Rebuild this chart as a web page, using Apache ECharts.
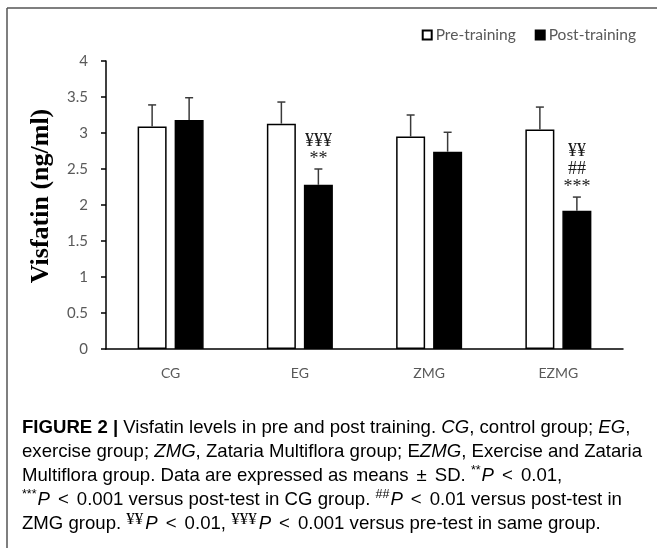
<!DOCTYPE html>
<html>
<head>
<meta charset="utf-8">
<script src="https://cdn.jsdelivr.net/npm/echarts@6/dist/echarts.min.js"></script>
<style>
  html, body { margin: 0; padding: 0; background: #fff; }
  #chart { width: 657px; height: 548px; }
</style>
</head>
<body>
<div id="chart"></div>
<script>
// Visfatin (ng/ml), means ± SD, before and after the training period
const groups = ['CG', 'EG', 'ZMG', 'EZMG'];
const preMeans = [3.09, 3.13, 2.95, 3.05];
const preSD = [0.30, 0.30, 0.30, 0.31];
const postMeans = [3.18, 2.28, 2.74, 1.92];
const postSD = [0.31, 0.22, 0.27, 0.19];
const postMarks = ['', '¥¥¥\n**', '', '¥¥\n##\n***'];
const yTicks = { min: 0, max: 4, step: 0.5 };
const seriesNames = ['Pre-training', 'Post-training'];

const BAR_W = 29;
const BAR_GAP = 8;
const half = (BAR_W + BAR_GAP) / 2;

const chart = echarts.init(document.getElementById('chart'), null, { renderer: 'canvas' });

function errorSeries(means, sds, shift) {
  return {
    type: 'custom',
    silent: true,
    z: 5,
    data: groups.map((g, i) => [i, means[i], means[i] + sds[i]]),
    renderItem: function (params, api) {
      const i = api.value(0);
      const top = api.coord([i, api.value(2)]);
      const base = api.coord([i, api.value(1)]);
      const x = top[0] + shift;
      const cap = 4;
      return {
        type: 'group',
        children: [
          { type: 'line', shape: { x1: x, y1: base[1], x2: x, y2: top[1] },
            style: { stroke: '#3a3a3a', lineWidth: 1.5 } },
          { type: 'line', shape: { x1: x - cap, y1: top[1], x2: x + cap, y2: top[1] },
            style: { stroke: '#3a3a3a', lineWidth: 1.5 } }
        ]
      };
    }
  };
}

// significance symbols stacked above the post-training error bars
const markSeries = {
  type: 'custom',
  silent: true,
  z: 6,
  data: groups.map((g, i) => [i, postMeans[i] + postSD[i], postMarks[i]]),
  renderItem: function (params, api) {
    const i = api.value(0);
    const txt = postMarks[i];
    if (!txt) return null;
    const p = api.coord([i, api.value(1)]);
    return {
      type: 'text',
      x: p[0] + half,
      y: p[1] - 1,
      style: {
        text: txt,
        fill: '#1a1a1a',
        font: '18px "Liberation Serif", "Times New Roman", serif',
        lineHeight: 18,
        align: 'center',
        verticalAlign: 'bottom'
      }
    };
  }
};

const captionFont = '"Liberation Sans", Arial, Helvetica, sans-serif';
const CAP = 18.6;
const capRich = {
  t: { fontFamily: captionFont, fontSize: CAP, color: '#333333', lineHeight: 24 },
  b: { fontFamily: captionFont, fontSize: CAP, fontWeight: 'bold', color: '#1a1a1a', lineHeight: 24 },
  i: { fontFamily: captionFont, fontSize: CAP, fontStyle: 'italic', color: '#333333', lineHeight: 24 },
  op: { fontFamily: captionFont, fontSize: CAP, color: '#333333', lineHeight: 24, padding: [0, 8, 0, 8] },
  s: { fontFamily: captionFont, fontSize: 12.5, color: '#333333', lineHeight: 24, verticalAlign: 'top', padding: [1, 1, 0, 0] },
  ys: { fontFamily: '"Liberation Serif", serif', fontSize: 17, color: '#333333', lineHeight: 24, verticalAlign: 'top', padding: [0, 2, 0, 0] }
};
const captionText = [
  '{b|FIGURE 2 |}{t| Visfatin levels in pre and post training. }{i|CG}{t|, control group; }{i|EG}{t|,}',
  '{t|exercise group; }{i|ZMG}{t|, Zataria Multiflora group; E}{i|ZMG}{t|, Exercise and Zataria}',
  '{t|Multiflora group. Data are expressed as means}{op|±}{t|SD. }{s|**}{i|P}{op|<}{t|0.01,}',
  '{s|***}{i|P}{op|<}{t|0.001 versus post-test in CG group. }{s|##}{i|P}{op|<}{t|0.01 versus post-test in}',
  '{t|ZMG group. }{ys|¥¥}{i|P}{op|<}{t|0.01, }{ys|¥¥¥}{i|P}{op|<}{t|0.001 versus pre-test in same group.}'
].join('\n');

const option = {
  backgroundColor: '#ffffff',
  animation: false,
  textStyle: { fontFamily: 'Lato, "Open Sans", sans-serif' },
  legend: {
    data: seriesNames,
    right: 16,
    top: 22,
    itemWidth: 9,
    itemHeight: 9,
    itemGap: 19,
    icon: 'rect',
    textStyle: { color: '#595959', fontSize: 15.5, fontFamily: 'Lato, sans-serif', padding: [0, 0, 0, -1] }
  },
  grid: { left: 106, right: 34, top: 61, bottom: 199, containLabel: false },
  xAxis: {
    type: 'category',
    data: groups,
    axisLine: { lineStyle: { color: '#000', width: 1.5 } },
    axisTick: { show: false },
    axisLabel: { color: '#595959', fontSize: 14, margin: 17, fontFamily: 'Lato, sans-serif' }
  },
  yAxis: {
    type: 'value',
    min: yTicks.min,
    max: yTicks.max,
    interval: yTicks.step,
    name: 'Visfatin (ng/ml)',
    nameLocation: 'middle',
    nameGap: 52,
    nameRotate: 90,
    nameTextStyle: {
      fontFamily: '"Liberation Serif", "Times New Roman", serif', fontWeight: 'bold', fontSize: 26, color: '#000',
      padding: [0, 0, 0, 18]
    },
    axisLine: { show: true, lineStyle: { color: '#000', width: 1.5 } },
    axisTick: { show: true, length: 5, lineStyle: { color: '#000', width: 1.5 } },
    axisLabel: { color: '#595959', fontSize: 15, margin: 18, fontFamily: 'Lato, sans-serif' },
    splitLine: { show: false }
  },
  series: [
    {
      name: seriesNames[0],
      type: 'bar',
      data: preMeans,
      barWidth: BAR_W,
      barGap: (BAR_GAP / BAR_W * 100).toFixed(1) + '%',
      itemStyle: { color: '#ffffff', borderColor: '#000', borderWidth: 1.5 }
    },
    {
      name: seriesNames[1],
      type: 'bar',
      data: postMeans,
      barWidth: BAR_W,
      itemStyle: { color: '#000000', borderColor: '#000', borderWidth: 1.5 }
    },
    errorSeries(preMeans, preSD, -half),
    errorSeries(postMeans, postSD, half),
    markSeries
  ],
  graphic: [
    { type: 'line', shape: { x1: 7, y1: 8, x2: 657, y2: 8 }, style: { stroke: '#555', lineWidth: 1.5 } },
    { type: 'line', shape: { x1: 7, y1: 8, x2: 7, y2: 548 }, style: { stroke: '#555', lineWidth: 1.5 } },
    {
      type: 'text',
      left: 22,
      top: 418,
      style: { text: captionText, rich: capRich }
    }
  ]
};

chart.setOption(option);
</script>
</body>
</html>
